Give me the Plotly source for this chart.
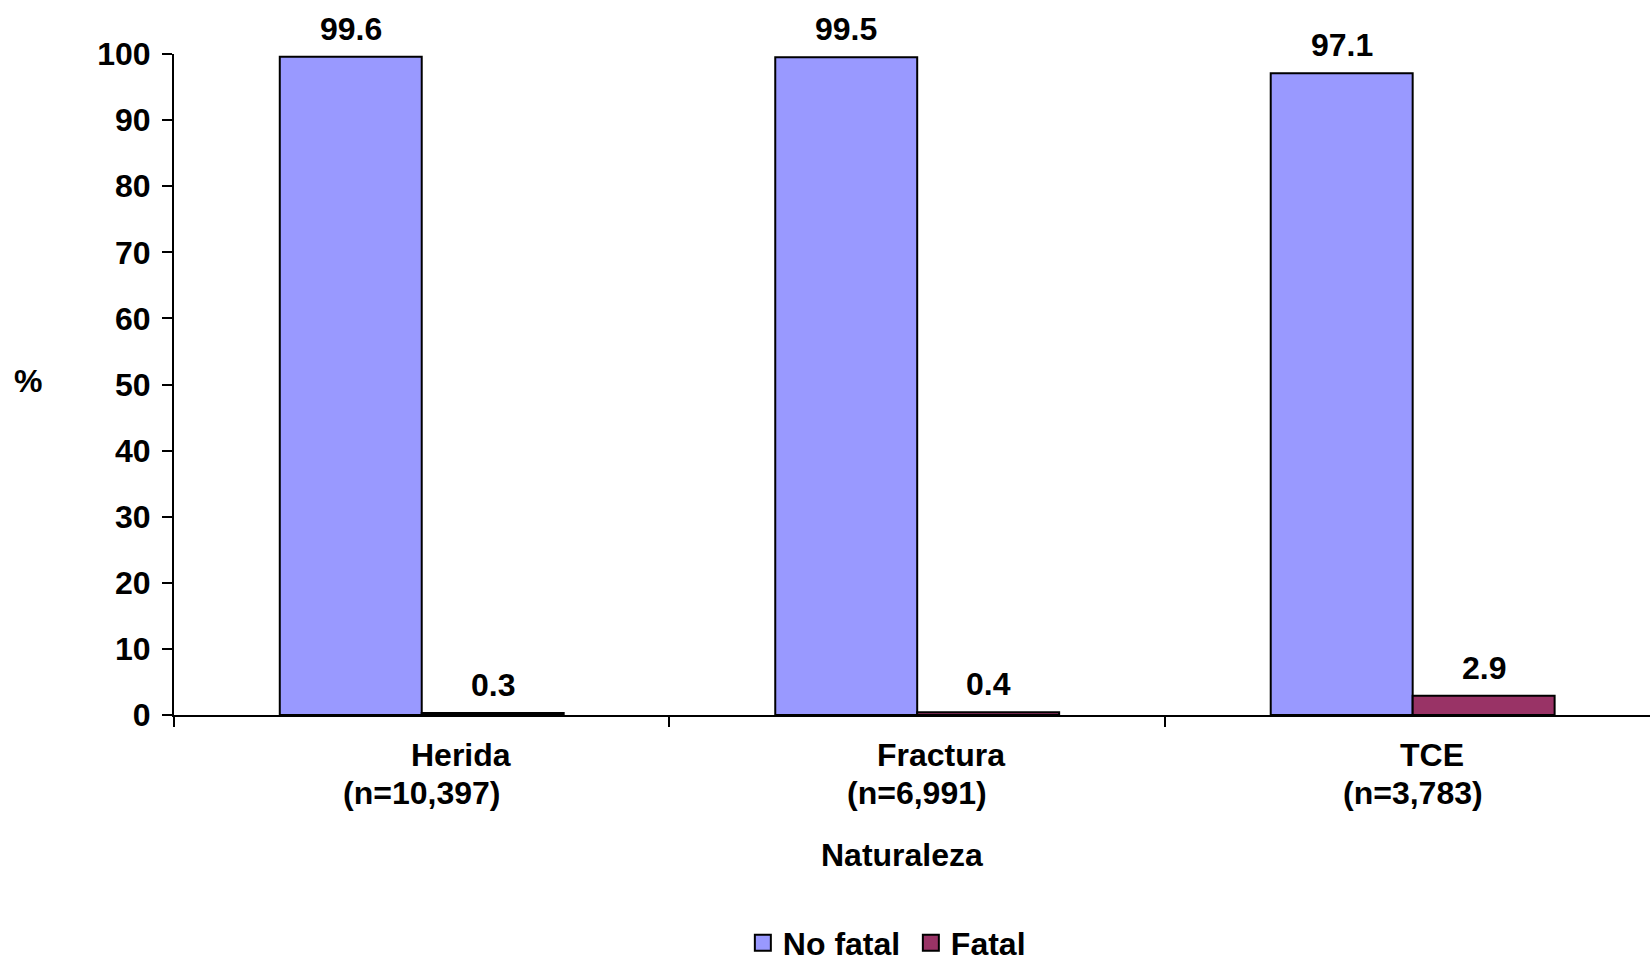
import plotly.graph_objects as go

# Injury type (x categories), sample size per category, and outcome shares (%)
categories = ["Herida", "Fractura", "TCE"]
sample_sizes = ["10,397", "6,991", "3,783"]
no_fatal = [99.6, 99.5, 97.1]
fatal = [0.3, 0.4, 2.9]
y_ticks = [0, 10, 20, 30, 40, 50, 60, 70, 80, 90, 100]

FONT = dict(family="Liberation Sans, Arial, sans-serif", size=32, color="black", weight="bold")
BARGAP = 0.427
COLOR_NO_FATAL = "#9999FF"
COLOR_FATAL = "#993366"
NAME_SHIFT = [39, 24, 19]  # first label line sits slightly right of centre

fig = go.Figure()
series = [("No fatal", no_fatal, COLOR_NO_FATAL), ("Fatal", fatal, COLOR_FATAL)]
for name, values, color in series:
    fig.add_trace(go.Bar(
        name=name, x=categories, y=values, showlegend=False,
        marker=dict(color=color, line=dict(color="black", width=2)),
    ))
# legend keys drawn as larger outlined squares
for name, values, color in series:
    fig.add_trace(go.Scatter(
        name=name, x=[None], y=[None], mode="markers",
        marker=dict(symbol="square", size=18, color=color, line=dict(color="black", width=2)),
    ))

annotations = []
half = (1 - BARGAP) / 4  # centre offset of each bar inside its group
for i, cat in enumerate(categories):
    for offset, val in ((-half, no_fatal[i]), (half, fatal[i])):
        annotations.append(dict(
            x=i + offset, y=val, xref="x", yref="y", text=f"{val:.1f}",
            showarrow=False, yanchor="bottom", yshift=8, font=FONT,
        ))
    annotations.append(dict(
        x=i, y=0, xref="x", yref="y", text=cat, showarrow=False,
        yanchor="middle", yshift=-40, xshift=NAME_SHIFT[i], font=FONT,
    ))
    annotations.append(dict(
        x=i, y=0, xref="x", yref="y", text=f"(n={sample_sizes[i]})", showarrow=False,
        yanchor="middle", yshift=-78, font=FONT,
    ))

annotations.append(dict(
    x=0.4932, y=-0.212, xref="paper", yref="paper", text="Naturaleza",
    showarrow=False, xanchor="center", yanchor="middle", font=FONT,
))
annotations.append(dict(
    x=-0.099, y=0.506, xref="paper", yref="paper", text="%",
    showarrow=False, xanchor="center", yanchor="middle", font=FONT,
))

fig.update_layout(
    width=1650, height=962,
    margin=dict(l=174, r=0, t=54, b=247, autoexpand=False),
    paper_bgcolor="white", plot_bgcolor="white",
    barmode="group", bargap=BARGAP, bargroupgap=0,
    font=FONT,
    showlegend=True,
    legend=dict(
        orientation="h", x=0.3854, y=-0.345, xanchor="left", yanchor="middle",
        font=FONT, traceorder="normal", entrywidth=123,
    ),
    annotations=annotations,
    xaxis=dict(
        range=[-0.5, 2.479], showline=True, linecolor="black", linewidth=2,
        ticks="outside", ticklen=10, tickwidth=2, tickcolor="black",
        tickson="boundaries", showticklabels=False, showgrid=False, zeroline=False,
    ),
    yaxis=dict(
        range=[0, 100], tickvals=y_ticks, showline=True, linecolor="black", linewidth=2,
        ticks="outside", ticklen=10, tickwidth=2, tickcolor="black",
        ticklabelstandoff=5, showgrid=False, zeroline=False, tickfont=FONT,
    ),
)

fig.write_html("out.html")
